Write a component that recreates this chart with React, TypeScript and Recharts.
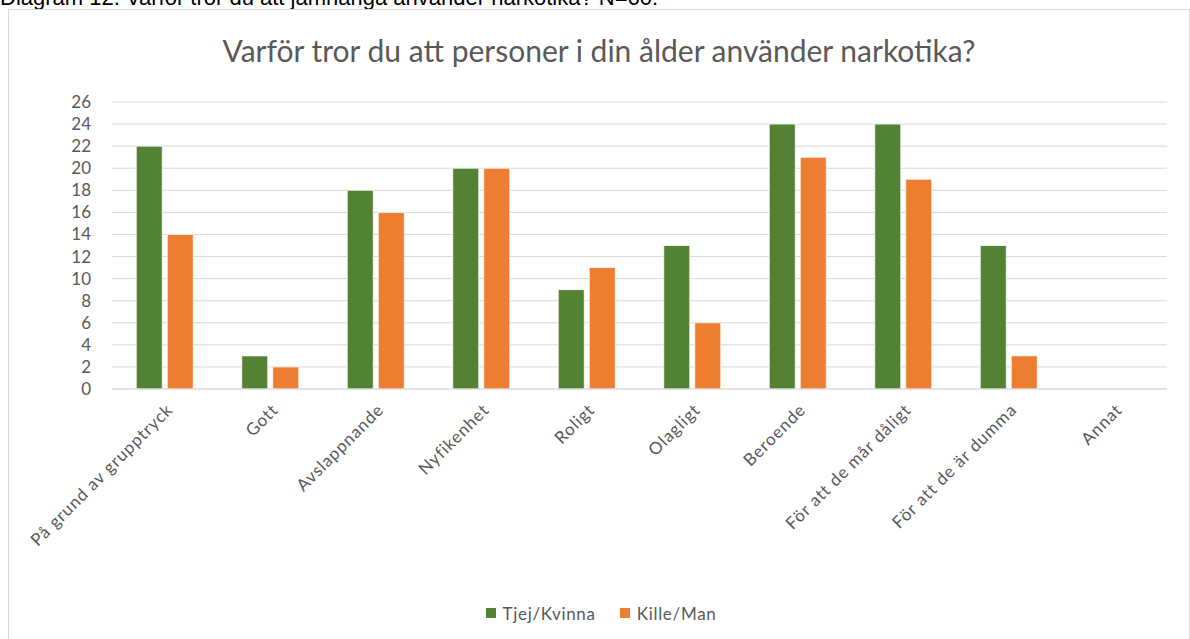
import React from "react";
import { BarChart, Bar, XAxis, YAxis, CartesianGrid, Legend } from "recharts";

const categories = [
  "På grund av grupptryck",
  "Gott",
  "Avslappnande",
  "Nyfikenhet",
  "Roligt",
  "Olagligt",
  "Beroende",
  "För att de mår dåligt",
  "För att de är dumma",
  "Annat",
];
const tjejValues = [22, 3, 18, 20, 9, 13, 24, 24, 13, 0];
const killeValues = [14, 2, 16, 20, 11, 6, 21, 19, 3, 0];
const yTicks = [0, 2, 4, 6, 8, 10, 12, 14, 16, 18, 20, 22, 24, 26];

const GREEN = "#548235";
const ORANGE = "#ED7D31";
const TEXT = "#595959";
const FONT = "Lato, 'Open Sans', sans-serif";

const data = categories.map((name, i) => ({
  name,
  tjej: tjejValues[i],
  kille: killeValues[i],
}));

const CategoryTick: React.FC<any> = ({ x, y, payload }) => (
  <g transform={`translate(${x + 9},${y + 14})`}>
    <text
      transform="rotate(-45)"
      textAnchor="end"
      fill={TEXT}
      fontSize={17}
      letterSpacing={0.9}
      fontFamily={FONT}
    >
      {payload.value}
    </text>
  </g>
);

const LegendContent: React.FC<any> = () => (
  <div
    style={{
      height: 20,
      display: "flex",
      justifyContent: "center",
      alignItems: "center",
      fontFamily: FONT,
      fontSize: 17,
      letterSpacing: 0.7,
      color: TEXT,
      paddingLeft: 26,
    }}
  >
    <span style={{ width: 10, height: 10, background: GREEN, marginRight: 7 }} />
    <span style={{ marginRight: 24 }}>Tjej/Kvinna</span>
    <span style={{ width: 10, height: 10, background: ORANGE, marginRight: 7 }} />
    <span>Kille/Man</span>
  </div>
);

const App: React.FC = () => {
  return (
    <div style={{ position: "absolute", left: 0, top: 0, width: 1190, height: 639, overflow: "hidden", background: "#fff" }}>
      {/* caption above the chart box, cut off by the page edge */}
      <div
        style={{
          position: "absolute",
          left: 0,
          top: -13,
          fontFamily: "'Liberation Sans', Arial, sans-serif",
          fontSize: 22,
          lineHeight: "22px",
          color: "#000",
          whiteSpace: "nowrap",
        }}
      >
        Diagram 12. Varför tror du att jämnåriga använder narkotika? N=60.
      </div>

      <div
        style={{
          position: "absolute",
          left: 8,
          top: 9,
          width: 1182,
          height: 640,
          border: "1px solid #d9d9d9",
          boxSizing: "border-box",
        }}
      >
        <div
          style={{
            position: "absolute",
            left: 0,
            top: 24,
            width: 1180,
            textAlign: "center",
            fontFamily: FONT,
            fontSize: 30,
            lineHeight: "32px",
            color: TEXT,
          }}
        >
          Varför tror du att personer i din ålder använder narkotika?
        </div>

        <BarChart
          width={1180}
          height={629}
          data={data}
          margin={{ top: 92, right: 22, left: 0, bottom: 16 }}
          barCategoryGap="23%"
          barGap={5}
        >
          <CartesianGrid vertical={false} stroke="#d9d9d9" />
          <XAxis
            dataKey="name"
            interval={0}
            height={214}
            axisLine={{ stroke: "#d9d9d9" }}
            tickLine={false}
            tick={<CategoryTick />}
          />
          <YAxis
            width={103}
            domain={[0, 26]}
            ticks={yTicks}
            interval={0}
            axisLine={false}
            tickLine={false}
            tickSize={0}
            tickMargin={21}
            tick={{ fill: TEXT, fontSize: 17, fontFamily: FONT }}
          />
          <Legend verticalAlign="bottom" content={<LegendContent />} />
          <Bar dataKey="tjej" name="Tjej/Kvinna" fill={GREEN} stroke="#fff" strokeWidth={0.75} isAnimationActive={false} />
          <Bar dataKey="kille" name="Kille/Man" fill={ORANGE} stroke="#fff" strokeWidth={0.75} isAnimationActive={false} />
        </BarChart>
      </div>
    </div>
  );
};

export default App;
